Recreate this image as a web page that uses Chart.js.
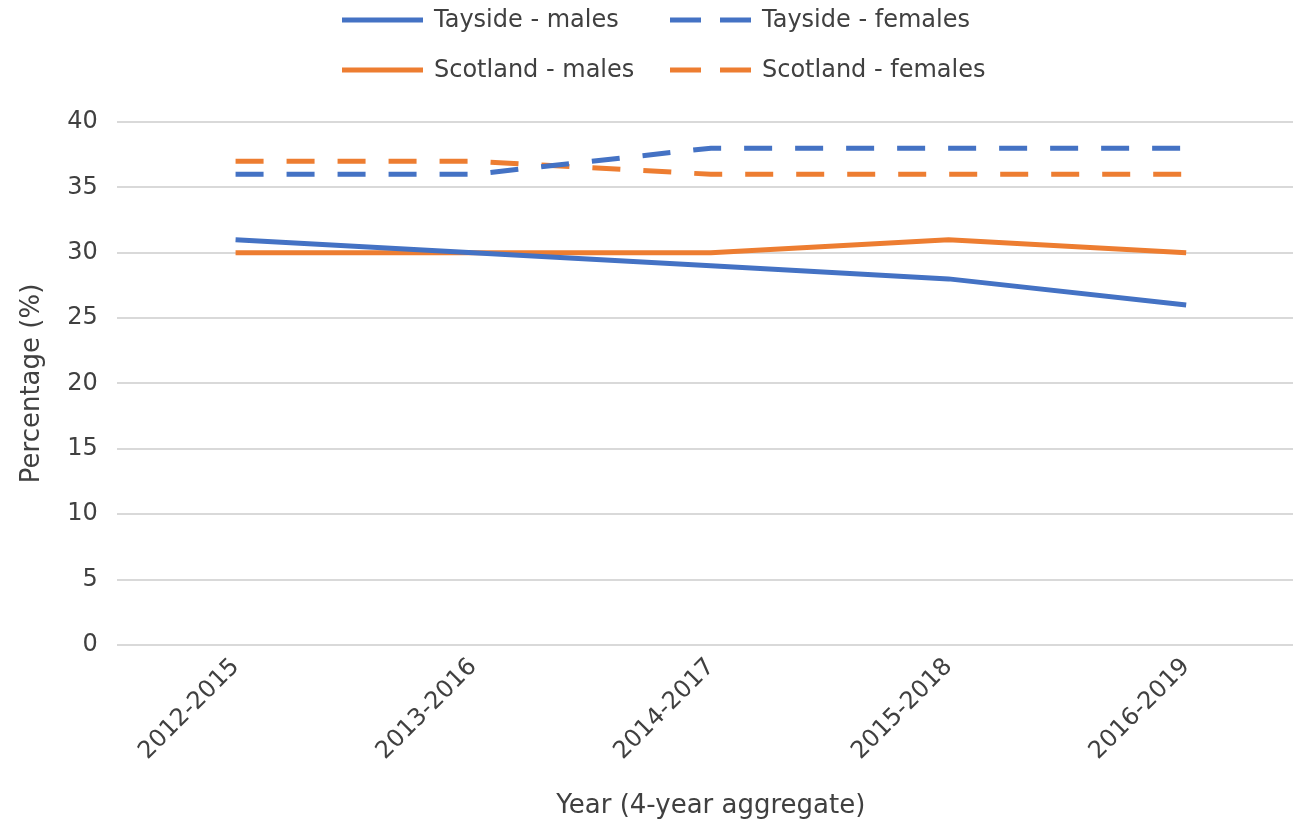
<!DOCTYPE html>
<html>
<head>
<meta charset="utf-8">
<script src="https://cdn.jsdelivr.net/npm/chart.js@4/dist/chart.umd.min.js"></script>
<style>
  html, body { margin: 0; padding: 0; background: #ffffff; overflow: hidden; }
</style>
</head>
<body>
<canvas id="chart" width="1305" height="832"></canvas>
<script>
const years = ["2012-2015", "2013-2016", "2014-2017", "2015-2018", "2016-2019"];

const taysideMales = [31, 30, 29, 28, 26];
const taysideFemales = [36, 36, 38, 38, 38];
const scotlandMales = [30, 30, 30, 31, 30];
const scotlandFemales = [37, 37, 36, 36, 36];

const seriesNames = ["Tayside - males", "Tayside - females", "Scotland - males", "Scotland - females"];

const blue = "#4472C4";
const orange = "#ED7D31";
const textColor = "#404040";
const dash = [28, 23];

// legend in a 2x2 grid, like the original
const gridLegend = {
  id: "gridLegend",
  afterDraw(chart) {
    const ctx = chart.ctx;
    const cols = [342, 670];
    const rows = [20, 70];
    const lineLen = 81;
    chart.data.datasets.forEach(function (ds, i) {
      const x = cols[i % 2];
      const y = rows[Math.floor(i / 2)];
      ctx.save();
      ctx.strokeStyle = ds.borderColor;
      ctx.lineWidth = 5;
      ctx.setLineDash(ds.borderDash.length ? [31, 19] : []);
      ctx.beginPath();
      ctx.moveTo(x, y);
      ctx.lineTo(x + lineLen, y);
      ctx.stroke();
      ctx.setLineDash([]);
      ctx.fillStyle = textColor;
      ctx.font = "24px 'DejaVu Sans'";
      ctx.textBaseline = "middle";
      ctx.textAlign = "left";
      ctx.fillText(ds.label, x + lineLen + 11, y + 1);
      ctx.restore();
    });
  },
};

function makeSet(label, data, color, dashed) {
  return {
    label: label,
    data: data,
    borderColor: color,
    backgroundColor: color,
    borderWidth: 5,
    borderDash: dashed ? dash : [],
    pointRadius: 0,
    pointHoverRadius: 0,
    tension: 0,
    fill: false,
  };
}

const ctx = document.getElementById("chart");

new Chart(ctx, {
  type: "line",
  data: {
    labels: years,
    datasets: [
      makeSet(seriesNames[0], taysideMales, blue, false),
      makeSet(seriesNames[1], taysideFemales, blue, true),
      makeSet(seriesNames[2], scotlandMales, orange, false),
      makeSet(seriesNames[3], scotlandFemales, orange, true),
    ],
  },
  options: {
    responsive: false,
    animation: false,
    layout: {
      padding: { top: 122, left: 17, right: 0, bottom: 10 },
    },
    plugins: {
      legend: { display: false },
      tooltip: { enabled: false },
    },
    scales: {
      x: {
        offset: true,
        grid: { display: false, drawTicks: false },
        border: { display: false },
        ticks: {
          color: textColor,
          font: { family: "DejaVu Sans", size: 24 },
          minRotation: 45,
          maxRotation: 45,
          padding: 8,
        },
        title: {
          display: true,
          text: "Year (4-year aggregate)",
          color: textColor,
          font: { family: "DejaVu Sans", size: 26 },
          padding: { top: 17, bottom: 0 },
        },
      },
      y: {
        min: 0,
        max: 40,
        grid: { color: "#d9d9d9", lineWidth: 2, drawTicks: false },
        border: { display: false },
        ticks: {
          stepSize: 5,
          color: textColor,
          font: { family: "DejaVu Sans", size: 24 },
          padding: 19,
        },
        title: {
          display: true,
          text: "Percentage (%)",
          color: textColor,
          font: { family: "DejaVu Sans", size: 26 },
          padding: { top: 0, bottom: 0 },
        },
      },
    },
  },
  plugins: [gridLegend],
});
</script>
</body>
</html>
